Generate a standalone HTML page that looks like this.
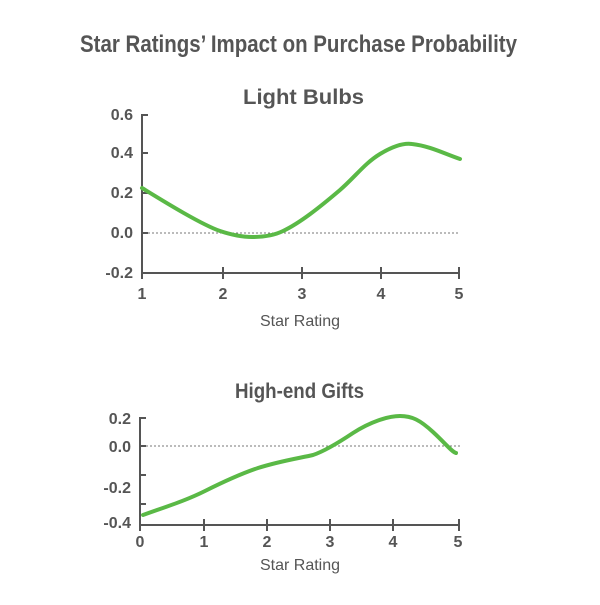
<!DOCTYPE html>
<html><head><style>
body{margin:0;background:#fff}
text{font-family:"Liberation Sans",sans-serif;fill:#555}
</style></head><body>
<svg width="600" height="600" viewBox="0 0 600 600" xmlns="http://www.w3.org/2000/svg">
<text x="80" y="52" font-size="24" font-weight="bold" textLength="437" lengthAdjust="spacingAndGlyphs">Star Ratings’ Impact on Purchase Probability</text>
<text x="243" y="104" font-size="21" font-weight="bold" textLength="121" lengthAdjust="spacingAndGlyphs">Light Bulbs</text>
<g stroke="#555" stroke-width="2" fill="none">
<path d="M142,114 V273 H460"/>
<path d="M142,115 h6 M142,153 h6 M142,193 h6 M142,233 h6"/>
<path d="M223,267 v12 M302,267 v12 M381,267 v12 M459,267 v12 M142,273 v6"/>
</g>
<line x1="148" y1="233" x2="460" y2="233" stroke="#777" stroke-width="1" stroke-dasharray="2,2"/>
<g font-size="16" font-weight="bold" text-anchor="end">
<text x="133" y="120">0.6</text>
<text x="133" y="158">0.4</text>
<text x="133" y="198">0.2</text>
<text x="133" y="238">0.0</text>
<text x="133" y="278">-0.2</text>
</g>
<g font-size="16" font-weight="bold" text-anchor="middle">
<text x="142" y="299">1</text>
<text x="223" y="299">2</text>
<text x="302" y="299">3</text>
<text x="381" y="299">4</text>
<text x="459" y="299">5</text>
</g>
<text x="300" y="326" text-anchor="middle" font-size="16">Star Rating</text>
<path d="M142,188 C160,199 200,224 220,231 C235,236 245,237 252,237 C265,237 275,235 283,231 C300,223 320,207 340,190 C355,177 365,163 380,154 C395,145 405,143 412,144 C430,146 445,154 460,159" stroke="#5ab946" stroke-width="4" fill="none" stroke-linecap="round"/>

<text x="235" y="398" font-size="21" font-weight="bold" textLength="129" lengthAdjust="spacingAndGlyphs">High-end Gifts</text>
<g stroke="#555" stroke-width="2" fill="none">
<path d="M140,417 V525 H460"/>
<path d="M140,418 h6 M140,446 h6 M140,475 h6 M140,504 h6"/>
<path d="M204,519 v12 M267,519 v12 M330,519 v12 M393,519 v12 M459,519 v12 M140,525 v6"/>
</g>
<line x1="146" y1="446" x2="460" y2="446" stroke="#777" stroke-width="1" stroke-dasharray="2,2"/>
<g font-size="16" font-weight="bold" text-anchor="end">
<text x="131" y="424">0.2</text>
<text x="131" y="452">0.0</text>
<text x="131" y="493">-0.2</text>
<text x="131" y="528">-0.4</text>
</g>
<g font-size="16" font-weight="bold" text-anchor="middle">
<text x="140" y="547">0</text>
<text x="204" y="547">1</text>
<text x="267" y="547">2</text>
<text x="330" y="547">3</text>
<text x="393" y="547">4</text>
<text x="458" y="547">5</text>
</g>
<text x="300" y="570" text-anchor="middle" font-size="16">Star Rating</text>
<path d="M143,515 C165,507 185,501 205,491 C225,481 240,474 258,468 C280,461 300,458 313,455 C325,451 338,443 353,433 C370,422 388,416 400,416 C412,416 420,420 433,432 C445,443 452,452 456,453" stroke="#5ab946" stroke-width="4" fill="none" stroke-linecap="round"/>
</svg>
</body></html>
